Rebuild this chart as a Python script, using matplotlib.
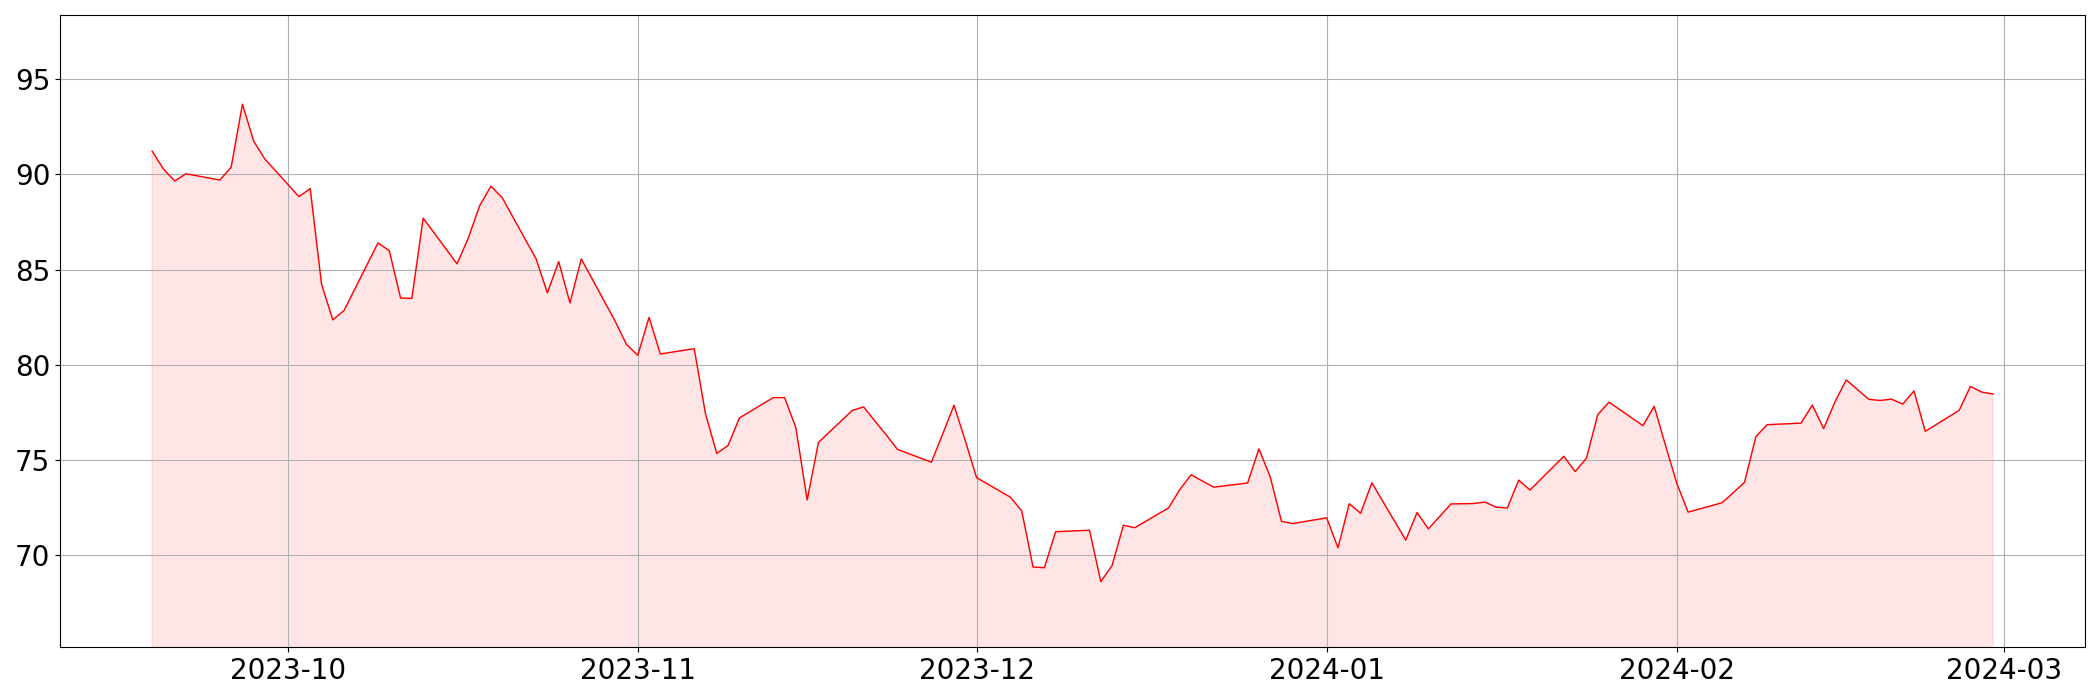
import pandas as pd
import matplotlib
matplotlib.use("Agg")
import matplotlib.pyplot as plt

# trading days shown in the chart (business days plus two extra Sundays)
dates = pd.bdate_range("2023-09-19", "2024-02-29").append(
    pd.DatetimeIndex(["2024-01-14", "2024-02-18"])).sort_values()

sep_values = [91.22, 90.28, 89.65, 90.03, 89.70, 90.38, 93.68, 91.73, 90.79]
oct_values = [88.83, 89.25, 84.24, 82.36, 82.86, 86.40, 85.99, 83.51, 83.49, 87.70,
              85.30, 86.66, 88.35, 89.38, 88.77, 85.56, 83.78, 85.42, 83.25, 85.56,
              82.29, 81.07]
nov_values = [80.50, 82.49, 80.57, 80.85, 77.42, 75.35, 75.77, 77.21, 78.28, 78.28,
              76.70, 72.91, 75.93, 77.61, 77.79, 77.05, 76.32, 75.56, 74.89, 76.37,
              77.88, 76.02]
dec_values = [74.08, 73.05, 72.33, 69.39, 69.35, 71.24, 71.32, 68.62, 69.47, 71.58,
              71.45, 72.49, 73.46, 74.23, 73.90, 73.58, 73.80, 75.59, 74.12, 71.78,
              71.67]
jan_values = [71.97, 70.40, 72.71, 72.21, 73.81, 70.80, 72.25, 71.39, 72.04, 72.70,
              72.72, 72.80, 72.53, 72.49, 73.95, 73.43, 75.20, 74.40, 75.10, 77.39,
              78.04, 76.81, 77.82, 75.77]
feb_values = [73.78, 72.27, 72.76, 73.29, 73.84, 76.23, 76.86, 76.94, 77.89, 76.65,
              78.05, 79.21, 78.19, 78.13, 78.20, 77.94, 78.63, 76.51, 77.61, 78.87,
              78.57, 78.47]

values = sep_values + oct_values + nov_values + dec_values + jan_values + feb_values
series = pd.Series(values, index=dates)

fig, ax = plt.subplots(figsize=(21, 7), dpi=100)
ax.plot(series.index, series.values, color="red", linewidth=1)
ax.fill_between(series.index, series.values, 0, color="red", alpha=0.1)
ax.set_ylim(series.min() * 0.95, series.max() * 1.05)
ax.grid(True)
ax.tick_params(axis="both", labelsize=20)

fig.subplots_adjust(left=0.0286, right=0.9929, top=0.9786, bottom=0.0757)
fig.savefig("out.png")
